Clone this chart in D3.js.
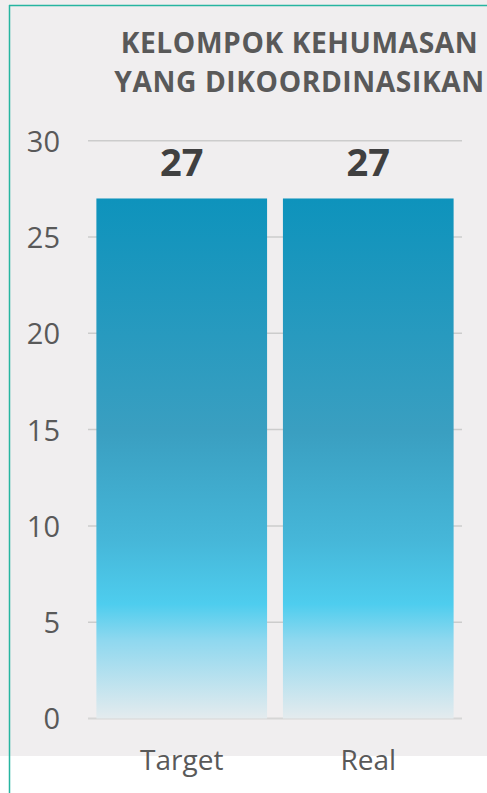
<!DOCTYPE html>
<html><head><meta charset="utf-8">
<script src="https://cdn.jsdelivr.net/npm/d3@7"></script>
<style>html,body{margin:0;padding:0;background:#fff;}svg{display:block;}</style>
</head><body>
<script>
const categories = ["Target", "Real"];
const values = [27, 27];
const tickValues = [0, 5, 10, 15, 20, 25, 30];
const titleLines = ["KELOMPOK KEHUMASAN", "YANG DIKOORDINASIKAN"];

const W = 487, H = 793;
const svg = d3.select("body").append("svg").attr("width", W).attr("height", H);

svg.append("rect").attr("x",0).attr("y",0).attr("width",W).attr("height",756).attr("fill","#f0eeef");

const defs = svg.append("defs");
const grad = defs.append("linearGradient").attr("id","barGrad").attr("x1",0).attr("y1",0).attr("x2",0).attr("y2",1);
[[0,"#0e93bc"],[0.45,"#3a9fc1"],[0.66,"#46b7d9"],[0.78,"#4ecdee"],[0.85,"#8fd8ef"],[1,"#e4ebee"]]
  .forEach(([o,c])=>grad.append("stop").attr("offset",o).attr("stop-color",c));

const x = d3.scaleBand().domain(categories).range([88, 462]).paddingInner(0.085).paddingOuter(0.045);
const y = d3.scaleLinear().domain([0, 30]).range([718.5, 140.7]);

// gridlines
svg.append("g").selectAll("line").data(tickValues).join("line")
  .attr("x1",88).attr("x2",462).attr("y1",d=>y(d)).attr("y2",d=>y(d))
  .attr("stroke",d=>d===0?"#d6d6d6":"#cccccc").attr("stroke-width",d=>d===0?2:1.5);

// y axis labels
const yAxis = d3.axisLeft(y).tickValues(tickValues).tickSize(0).tickPadding(0);
const gy = svg.append("g").attr("transform","translate(60,0)").call(yAxis);
gy.select(".domain").remove();
gy.selectAll("text").attr("font-family","'Open Sans'").attr("font-size",29).attr("fill","#595959").attr("dy","0.36em");

// bars
svg.append("g").selectAll("rect").data(values).join("rect")
  .attr("x",(d,i)=>x(categories[i])).attr("width",x.bandwidth())
  .attr("y",d=>y(d)).attr("height",d=>y(0)-y(d)).attr("fill","url(#barGrad)");

// data labels
svg.append("g").selectAll("text").data(values).join("text")
  .attr("x",(d,i)=>x(categories[i])+x.bandwidth()/2).attr("y",d=>y(d)-22)
  .attr("text-anchor","middle").attr("font-family","'Open Sans'").attr("font-weight","bold")
  .attr("font-size",38).attr("fill","#404040").text(d=>d);

// x axis labels
const xAxis = d3.axisBottom(x).tickSize(0).tickPadding(0);
const gx = svg.append("g").attr("transform","translate(0,770)").call(xAxis);
gx.select(".domain").remove();
gx.selectAll("text").attr("font-family","'Open Sans'").attr("font-size",28).attr("fill","#595959").attr("dy",0);

// title
svg.append("g").selectAll("text").data(titleLines).join("text")
  .attr("x",299.5).attr("y",(d,i)=>53+i*39).attr("text-anchor","middle")
  .attr("font-family","'Open Sans'").attr("font-weight","bold").attr("font-size",28.2)
  .attr("letter-spacing",0.6).attr("fill","#595959").text(d=>d);

// border
svg.append("line").attr("x1",9).attr("x2",W).attr("y1",5.5).attr("y2",5.5).attr("stroke","#26b5a0").attr("stroke-width",1.5);
svg.append("line").attr("x1",9.5).attr("x2",9.5).attr("y1",5).attr("y2",H).attr("stroke","#26b5a0").attr("stroke-width",1.5);
</script>
</body></html>
